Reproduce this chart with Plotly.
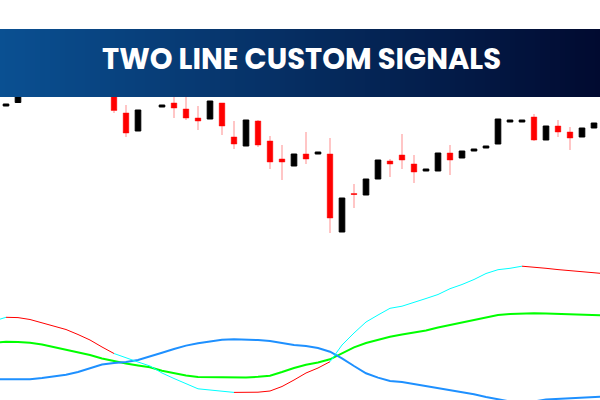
import plotly.graph_objects as go

# ---------------- data ----------------
candle_idx = list(range(50))
opens = [294, 297.5, 306, 318, 312, 330, 338, 326, 320, 312,
         287, 269, 318, 293, 297, 291, 282, 281, 297, 263,
         254, 279, 259, 241, 234, 246, 246, 246, 168, 206.5,
         205, 221, 239, 245, 236, 229, 229, 247, 242, 249,
         252, 256, 278, 278, 283, 260, 274, 268, 263, 272]
closes = [296, 310, 318, 312, 330, 338, 326, 320, 325, 289.5,
          267, 290, 306, 295, 292, 282, 279, 299, 274, 256,
          280, 255, 238, 238, 246, 241, 248, 182, 202, 205.5,
          221, 240, 236, 240, 228, 231, 247, 240, 249, 251,
          254, 281, 280, 280, 260, 274, 268, 262, 272, 277]
highs = [296, 310, 318, 322, 330, 338, 340, 328, 325, 316,
         295, 290, 322, 295, 310, 306, 294, 299, 297, 279,
         280, 280, 264, 255, 246, 268, 248, 262, 202, 216,
         221, 240, 241, 266, 245, 231, 247, 255, 249, 251,
         254, 281, 280, 280, 286, 274, 280, 273, 272, 277]
lows = [294, 297.5, 306, 309, 312, 330, 322, 310, 320, 287,
        263, 269, 304, 293, 282, 280, 270, 281, 265, 251,
        254, 253, 231, 220, 234, 236, 246, 167, 168, 192,
        205, 221, 223, 231, 217, 229, 229, 225, 242, 249,
        252, 256, 278, 278, 259, 260, 263, 250, 263, 272]

line_idx = list(range(-1, 51))
signal_line = [79, 82.7, 82.4, 80.5, 77.2, 74.3, 70.5, 65.5, 60, 53,
               46.5, 42, 38, 34, 27, 21.5, 16, 11.2, 10, 8.7,
               7.6, 7.4, 7.8, 9, 13.5, 20, 27, 32, 38.3, 55,
               67, 78, 85, 91.7, 93.8, 98, 101.5, 105.5, 111.3, 115.5,
               120.5, 126.5, 130.3, 131.7, 133.8, 133, 131.7, 130.4, 129.3, 128.5,
               127.5, 126.2]
# state of each segment (from point k to point k+1): "up" = cyan, "dn" = red
signal_state = (["up"] * 1 + ["dn"] * 9 + ["up"] * 10 + ["dn"] * 8 +
                ["up"] * 16 + ["dn"] * 7)
green_line = [57.5, 58.2, 58.1, 57.3, 55.5, 53, 50.5, 48, 45, 41.5,
              38.7, 36.4, 34.5, 32.8, 29.2, 26.7, 24.6, 23, 22.7, 22.4,
              22.3, 22.5, 23.2, 24.3, 28, 32, 35.2, 37.5, 40.7, 46.7,
              52.7, 57, 60, 63.3, 65.5, 67.5, 69.5, 72.4, 75, 77.7,
              80.3, 83, 85, 86, 86.6, 86.7, 86.6, 86.2, 86, 85.2,
              84.8, 84.5]
blue_line = [20.7, 20.7, 20.6, 20.7, 22, 23.5, 25.3, 28, 31.7, 35.5,
             37, 38, 40, 43.3, 47.3, 51, 54.4, 56.8, 58.7, 60.3,
             60.7, 60.6, 60, 59, 57, 55, 54, 52, 48.3, 41.7,
             34, 26.7, 22.4, 19, 18, 16, 14, 11.7, 9.3, 8,
             5.7, 3, 0.5, -1.5, -2.5, -1.5, 0.5, 1.2, 1.7, 2.5,
             3.2, 3.5]

title_text = "TWO LINE CUSTOM SIGNALS"
state_colors = {"up": "#00ffff", "dn": "#ff0000"}

# ---------------- figure ----------------
fig = go.Figure()

fig.add_trace(go.Candlestick(
    x=candle_idx, open=opens, high=highs, low=lows, close=closes,
    increasing=dict(line=dict(color="#000000", width=1), fillcolor="#000000"),
    decreasing=dict(line=dict(color="rgba(255,0,0,0.45)", width=1), fillcolor="#ff0000"),
    whiskerwidth=0, showlegend=False, hoverinfo="skip",
    xaxis="x", yaxis="y",
))

fig.add_trace(go.Scatter(x=line_idx, y=green_line, mode="lines",
                         line=dict(color="#00ff00", width=2), showlegend=False,
                         xaxis="x", yaxis="y2", hoverinfo="skip"))
fig.add_trace(go.Scatter(x=line_idx, y=blue_line, mode="lines",
                         line=dict(color="#1e90ff", width=2), showlegend=False,
                         xaxis="x", yaxis="y2", hoverinfo="skip"))

# signal line drawn as runs of equally coloured segments
start = 0
for k in range(1, len(signal_state) + 1):
    if k == len(signal_state) or signal_state[k] != signal_state[start]:
        xs = line_idx[start:k + 1]
        ys = signal_line[start:k + 1]
        fig.add_trace(go.Scatter(x=xs, y=ys, mode="lines",
                                 line=dict(color=state_colors[signal_state[start]], width=1),
                                 showlegend=False, xaxis="x", yaxis="y2", hoverinfo="skip"))
        start = k

# banner with horizontal gradient
c0 = (10, 80, 146)
c1 = (1, 10, 48)
n = 120
shapes = []
for j in range(n):
    t = j / (n - 1)
    col = tuple(round(c0[q] + (c1[q] - c0[q]) * t) for q in range(3))
    shapes.append(dict(type="rect", xref="paper", yref="paper",
                       x0=j / n, x1=(j + 1) / n + 0.002, y0=1 - 97 / 400, y1=1 - 29 / 400,
                       fillcolor="rgb(%d,%d,%d)" % col, line=dict(width=0), layer="above"))

fig.update_layout(
    width=600, height=400,
    margin=dict(l=0, r=0, t=0, b=0),
    paper_bgcolor="white", plot_bgcolor="white",
    boxgap=0.33,
    xaxis=dict(range=[-0.5, 49.5], visible=False, rangeslider=dict(visible=False),
               showgrid=False, zeroline=False),
    yaxis=dict(domain=[0.35, 1.0], range=[140, 400], visible=False,
               showgrid=False, zeroline=False),
    yaxis2=dict(domain=[0.0, 0.35], range=[0, 140], visible=False,
                showgrid=False, zeroline=False),
    shapes=shapes,
    annotations=[dict(text="<b>%s</b>" % title_text, xref="paper", yref="paper",
                      x=0.5025, y=1 - 59 / 400, xanchor="center", yanchor="middle",
                      showarrow=False,
                      font=dict(family="Poppins, Open Sans, sans-serif", size=29, color="white"))],
)

fig.write_html("out.html",
               config={"displayModeBar": False, "staticPlot": True},
               post_script="document.body.style.margin='0px';document.body.style.overflow='hidden';")
